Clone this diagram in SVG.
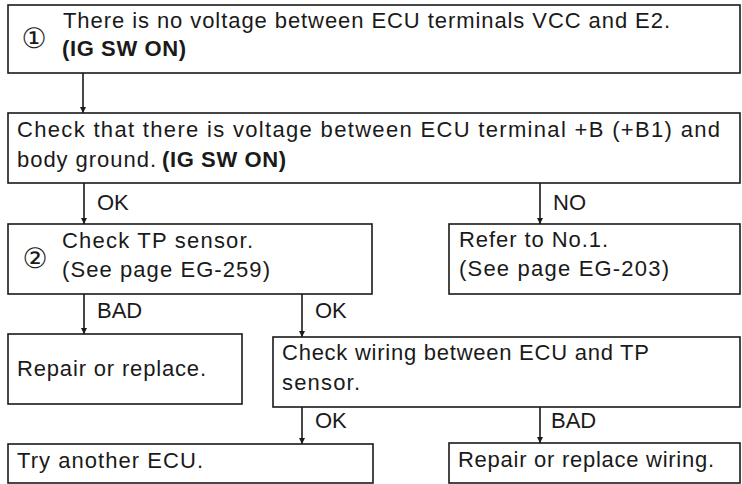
<svg xmlns="http://www.w3.org/2000/svg" width="742" height="484" viewBox="0 0 742 484">
  <style>
    .box { fill: #ffffff; stroke: #1a1a1a; stroke-width: 1.6; }
    .t { font-family: "Liberation Sans", Arial, sans-serif; font-size: 22px; fill: #1a1a1a; }
    .b { font-weight: bold; }
    .num { font-family: "DejaVu Sans", "Noto Sans CJK JP", sans-serif; font-size: 28px; fill: #1a1a1a; text-anchor: middle; }
    .edge { stroke: #1a1a1a; stroke-width: 1.6; fill: none; marker-end: url(#arr); }
  </style>
  <defs>
    <marker id="arr" viewBox="0 0 6 10" refX="6" refY="5" markerWidth="6" markerHeight="10" markerUnits="userSpaceOnUse" orient="auto">
      <path d="M0,2 L6,5 L0,8 Z" fill="#1a1a1a"/>
    </marker>
  </defs>
  <rect width="742" height="484" fill="#ffffff"/>

  <g id="connectors">
    <line class="edge" x1="83" y1="73" x2="83" y2="113"/>
    <line class="edge" x1="84" y1="183" x2="84" y2="224"/>
    <line class="edge" x1="540" y1="183" x2="540" y2="224"/>
    <line class="edge" x1="84" y1="294" x2="84" y2="334"/>
    <line class="edge" x1="302" y1="294" x2="302" y2="337"/>
    <line class="edge" x1="302" y1="407" x2="302" y2="444"/>
    <line class="edge" x1="540" y1="407" x2="540" y2="443"/>
    <text class="t" x="97" y="210">OK</text>
    <text class="t" x="553" y="210">NO</text>
    <text class="t" x="97" y="318">BAD</text>
    <text class="t" x="315" y="318">OK</text>
    <text class="t" x="315" y="428">OK</text>
    <text class="t" x="551" y="428">BAD</text>
  </g>

  <g id="n1">
    <rect class="box" x="8" y="5" width="732" height="68"/>
    <text class="num" x="34" y="48">①</text>
    <text class="t" x="63" y="28" textLength="607" lengthAdjust="spacing">There is no voltage between ECU terminals VCC and E2.</text>
    <text class="t b" x="62" y="56" textLength="124" lengthAdjust="spacing">(IG SW ON)</text>
  </g>

  <g id="n2">
    <rect class="box" x="8" y="113" width="732" height="70"/>
    <text class="t" x="17" y="137" textLength="703" lengthAdjust="spacing">Check that there is voltage between ECU terminal +B (+B1) and</text>
    <text class="t" x="17" y="167" textLength="139" lengthAdjust="spacing">body ground.</text>
    <text class="t b" x="162" y="167" textLength="124" lengthAdjust="spacing">(IG SW ON)</text>
  </g>

  <g id="n3">
    <rect class="box" x="8" y="224" width="364" height="70"/>
    <text class="num" x="35" y="268">②</text>
    <text class="t" x="62" y="248" textLength="191" lengthAdjust="spacing">Check TP sensor.</text>
    <text class="t" x="62" y="277" textLength="208" lengthAdjust="spacing">(See page EG-259)</text>
  </g>

  <g id="n4">
    <rect class="box" x="449" y="224" width="291" height="70"/>
    <text class="t" x="459" y="247" textLength="149" lengthAdjust="spacing">Refer to No.1.</text>
    <text class="t" x="459" y="276" textLength="210" lengthAdjust="spacing">(See page EG-203)</text>
  </g>

  <g id="n5">
    <rect class="box" x="8" y="334" width="234" height="70"/>
    <text class="t" x="17" y="376" textLength="189" lengthAdjust="spacing">Repair or replace.</text>
  </g>

  <g id="n6">
    <rect class="box" x="273" y="337" width="467" height="70"/>
    <text class="t" x="282" y="360" textLength="367" lengthAdjust="spacing">Check wiring between ECU and TP</text>
    <text class="t" x="282" y="390" textLength="78" lengthAdjust="spacing">sensor.</text>
  </g>

  <g id="n7">
    <rect class="box" x="8" y="444" width="365" height="39"/>
    <text class="t" x="17" y="468" textLength="186" lengthAdjust="spacing">Try another ECU.</text>
  </g>

  <g id="n8">
    <rect class="box" x="449" y="443" width="291" height="40"/>
    <text class="t" x="458" y="467" textLength="256" lengthAdjust="spacing">Repair or replace wiring.</text>
  </g>
</svg>
